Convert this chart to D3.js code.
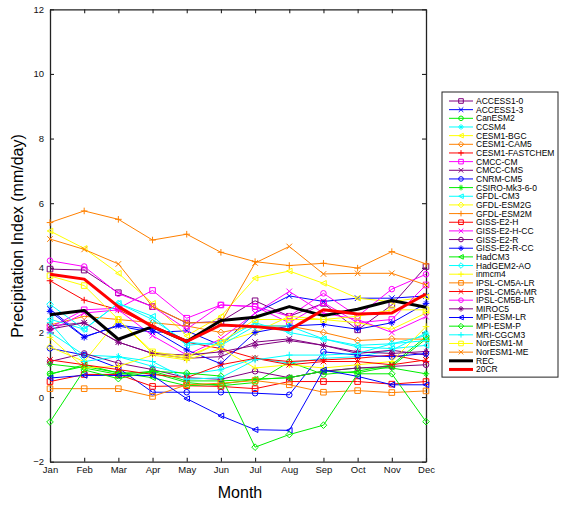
<!DOCTYPE html>
<html>
<head>
<meta charset="utf-8">
<script src="https://cdn.jsdelivr.net/npm/d3@7"></script>
<style>
  body { margin: 0; background: #fff; }
  text { font-family: "Liberation Sans", Arial, Helvetica, sans-serif; }
</style>
</head>
<body>
<svg id="chart" width="562" height="505"></svg>
<script>
// months on the x axis
var months = ["Jan","Feb","Mar","Apr","May","Jun","Jul","Aug","Sep","Oct","Nov","Dec"];
var yTicks = [-2, 0, 2, 4, 6, 8, 10, 12];

// monthly precipitation index (mm/day)
var access10     = [3.96, 3.93, 3.23, 2.8, 2.29, 2.34, 2.98, 2.5, 2.9, 2.08, 2.85, 4.04];
var access13     = [2.72, 1.87, 2.2, 2.0, 2.05, 1.6, 2.6, 3.13, 2.96, 3.06, 3.06, 3.13];
var canesm2      = [0.72, 0.95, 0.75, 0.75, 0.45, 0.35, 0.45, 1.09, 0.7, 0.8, 1.0, 1.87];
var ccsm4        = [2.0, 1.3, 1.25, 0.95, 0.7, 0.85, 1.2, 1.05, 1.2, 1.25, 1.45, 1.98];
var cesm1bgc     = [5.14, 4.6, 3.83, 2.9, 1.9, 2.5, 3.68, 3.9, 3.52, 3.06, 2.95, 3.1];
var cesm1cam5    = [2.23, 2.5, 2.4, 2.3, 2.2, 2.0, 2.2, 2.2, 2.0, 1.75, 1.8, 1.79];
var cesm1fast    = [3.6, 3.0, 2.7, 2.2, 1.7, 1.5, 1.2, 1.1, 1.15, 1.2, 1.3, 1.1];
var cmcccm       = [2.15, 2.7, 2.75, 3.3, 2.44, 2.85, 2.8, 2.3, 2.92, 2.3, 2.4, 3.47];
var cmcccms      = [2.2, 2.3, 1.7, 1.35, 1.2, 1.25, 1.7, 1.8, 1.6, 1.35, 1.45, 1.3];
var cnrmcm5      = [1.51, 1.3, 0.9, 0.15, 0.15, 0.15, 0.12, 0.07, 1.4, 1.3, 1.25, 1.35];
var csiro        = [1.02, 0.9, 0.7, 0.8, 0.5, 0.5, 0.55, 0.6, 0.8, 0.9, 0.9, 0.72];
var gfdlcm3      = [2.41, 2.1, 2.9, 2.5, 1.6, 1.7, 2.3, 2.0, 1.8, 1.55, 1.5, 1.6];
var gfdlesm2g    = [1.55, 1.1, 2.4, 1.35, 1.2, 1.7, 2.0, 2.5, 2.4, 2.3, 2.1, 2.6];
var gfdlesm2m    = [5.4, 5.76, 5.5, 4.86, 5.04, 4.48, 4.19, 4.07, 4.14, 3.99, 4.5, 4.12];
var gisse2h      = [0.48, 0.7, 0.7, 0.33, 0.35, 0.33, 0.26, 0.48, 0.48, 0.48, 0.4, 0.48];
var gisse2hcc    = [2.05, 2.6, 2.7, 1.9, 1.3, 1.8, 2.6, 3.27, 2.6, 2.4, 2.0, 2.49];
var gisse2r      = [1.1, 1.35, 1.05, 0.85, 0.6, 0.55, 0.8, 0.6, 0.8, 0.9, 0.95, 1.0];
var gisse2rcc    = [2.65, 1.85, 2.23, 2.08, 1.46, 1.03, 2.0, 2.2, 2.25, 2.1, 2.3, 2.9];
var hadcm3       = [0.7, 1.0, 0.75, 0.6, 0.35, 0.4, 0.55, 0.6, 0.8, 0.75, 0.95, 1.8];
var hadgem2ao    = [2.87, 2.1, 2.9, 2.4, 1.7, 1.6, 2.2, 2.2, 1.8, 1.6, 1.65, 1.9];
var inmcm4       = [1.85, 0.9, 0.95, 1.3, 1.15, 1.5, 0.9, 1.0, 0.9, 1.0, 1.1, 2.18];
var ipslcm5alr   = [0.26, 0.26, 0.26, 0.02, 0.38, 0.43, 0.51, 0.38, 0.15, 0.2, 0.14, 0.19];
var ipslcm5amr   = [1.15, 1.0, 0.85, 0.7, 0.6, 1.0, 1.2, 1.0, 1.1, 1.1, 1.0, 1.15];
var ipslcm5blr   = [4.22, 4.04, 3.2, 2.8, 2.1, 2.85, 2.8, 2.5, 3.21, 2.5, 3.34, 3.8];
var miroc5       = [2.1, 2.3, 1.7, 1.35, 1.3, 1.4, 1.6, 1.75, 1.6, 1.4, 1.35, 1.41];
var mpiesmlr     = [0.59, 0.67, 0.67, 0.67, -0.05, -0.58, -1.01, -1.03, 0.84, 0.64, 0.38, 0.38];
var mpiesmp      = [-0.77, 0.84, 0.57, 0.8, 0.74, 0.65, -1.55, -1.16, -0.87, 0.72, 0.72, -0.76];
var mricgcm3     = [2.3, 1.1, 1.25, 1.1, 0.55, 0.6, 1.15, 1.3, 1.3, 1.35, 1.65, 1.75];
var noresm1m     = [3.75, 3.45, 2.4, 1.4, 1.25, 1.7, 2.4, 2.4, 2.4, 2.5, 2.7, 2.7];
var noresm1me    = [4.89, 4.57, 4.12, 2.8, 2.3, 2.3, 4.15, 4.66, 3.81, 3.83, 3.83, 3.47];
var rec          = [2.55, 2.68, 1.79, 2.18, 1.72, 2.37, 2.47, 2.8, 2.52, 2.72, 2.99, 2.78];
var cr20         = [3.8, 3.65, 2.8, 2.18, 1.72, 2.23, 2.18, 2.08, 2.7, 2.57, 2.6, 3.19];

var names = ["ACCESS1-0","ACCESS1-3","CanESM2","CCSM4","CESM1-BGC","CESM1-CAM5","CESM1-FASTCHEM",
             "CMCC-CM","CMCC-CMS","CNRM-CM5","CSIRO-Mk3-6-0","GFDL-CM3","GFDL-ESM2G","GFDL-ESM2M",
             "GISS-E2-H","GISS-E2-H-CC","GISS-E2-R","GISS-E2-R-CC","HadCM3","HadGEM2-AO","inmcm4",
             "IPSL-CM5A-LR","IPSL-CM5A-MR","IPSL-CM5B-LR","MIROC5","MPI-ESM-LR","MPI-ESM-P",
             "MRI-CGCM3","NorESM1-M","NorESM1-ME","REC","20CR"];
var seriesValues = [access10, access13, canesm2, ccsm4, cesm1bgc, cesm1cam5, cesm1fast,
                    cmcccm, cmcccms, cnrmcm5, csiro, gfdlcm3, gfdlesm2g, gfdlesm2m,
                    gisse2h, gisse2hcc, gisse2r, gisse2rcc, hadcm3, hadgem2ao, inmcm4,
                    ipslcm5alr, ipslcm5amr, ipslcm5blr, miroc5, mpiesmlr, mpiesmp,
                    mricgcm3, noresm1m, noresm1me, rec, cr20];

// style cycles (colours repeat every 8, markers every 7)
var colorCycle = ["#800080","#0000ff","#00ee00","#00ffff","#ffff00","#ff8000","#ff0000","#ff00ff"];
var markerCycle = ["square","x","circle","star","triangle","diamond","plus"];

var series = names.map(function(n, i){
	var special = i >= 30;
	return {
		name: n,
		values: seriesValues[i],
		color: special ? (n == "REC" ? "#000000" : "#ff0000") : colorCycle[i % 8],
		marker: special ? null : markerCycle[i % 7],
		width: special ? 3 : 1
	};
});

var svg = d3.select("#chart");

var plotLeft = 50, plotRight = 426, plotTop = 9.3, plotBottom = 461.7;

var x = d3.scalePoint().domain(months).range([plotLeft, plotRight]);
var y = d3.scaleLinear().domain([-2, 12]).range([plotBottom, plotTop]);

function markerPath(type, s){
	switch(type){
		case "square":   return "M"+(-s)+","+(-s)+"H"+s+"V"+s+"H"+(-s)+"Z";
		case "circle":   return "M"+s+",0A"+s+","+s+" 0 1,1 "+(-s)+",0A"+s+","+s+" 0 1,1 "+s+",0";
		case "x":        return "M"+(-s)+","+(-s)+"L"+s+","+s+"M"+(-s)+","+s+"L"+s+","+(-s);
		case "plus":     return "M"+(-s-0.5)+",0H"+(s+0.5)+"M0,"+(-s-0.5)+"V"+(s+0.5);
		case "star":     return "M"+(-s-0.5)+",0H"+(s+0.5)+"M0,"+(-s-0.5)+"V"+(s+0.5)+
		                        "M"+(-s*0.75)+","+(-s*0.75)+"L"+(s*0.75)+","+(s*0.75)+
		                        "M"+(-s*0.75)+","+(s*0.75)+"L"+(s*0.75)+","+(-s*0.75);
		case "triangle": return "M"+(-s)+",0L"+s+","+(-s)+"L"+s+","+s+"Z";
		case "diamond":  return "M0,"+(-s-0.5)+"L"+(s+0.5)+",0L0,"+(s+0.5)+"L"+(-s-0.5)+",0Z";
	}
	return "";
}

// axes: ticks pointing inward on all four sides
var axisStyle = function(g){
	g.selectAll(".domain").attr("stroke", "#222").attr("stroke-width", 1.3);
	g.selectAll(".tick line").attr("stroke", "#222").attr("stroke-width", 1.1);
	g.selectAll("text").attr("font-size", 9.5).attr("fill", "#111")
		.style("font-family", "'Liberation Sans', Arial, sans-serif");
};

svg.append("g").attr("transform", "translate(0," + plotBottom + ")")
	.call(d3.axisBottom(x).tickSizeInner(-4).tickSizeOuter(0).tickPadding(5))
	.call(axisStyle);
svg.append("g").attr("transform", "translate(0," + plotTop + ")")
	.call(d3.axisTop(x).tickSizeInner(-4).tickSizeOuter(0).tickFormat(""))
	.call(axisStyle);
svg.append("g").attr("transform", "translate(" + plotLeft + ",0)")
	.call(d3.axisLeft(y).tickValues(yTicks).tickSizeInner(-4).tickSizeOuter(0).tickPadding(6))
	.call(axisStyle);
svg.append("g").attr("transform", "translate(" + plotRight + ",0)")
	.call(d3.axisRight(y).tickValues(yTicks).tickSizeInner(-4).tickSizeOuter(0).tickFormat(""))
	.call(axisStyle);

// lines
var line = d3.line()
	.x(function(d, i){ return x(months[i]); })
	.y(function(d){ return y(d); });

var plot = svg.append("g");

series.forEach(function(s){
	var g = plot.append("g");
	g.append("path")
		.attr("d", line(s.values))
		.attr("fill", "none")
		.attr("stroke", s.color)
		.attr("stroke-width", s.width)
		.attr("stroke-linejoin", "round");
	if(s.marker){
		g.selectAll("path.mk")
			.data(s.values)
			.enter().append("path")
			.attr("class", "mk")
			.attr("transform", function(d, i){ return "translate(" + x(months[i]) + "," + y(d) + ")"; })
			.attr("d", markerPath(s.marker, 2.8))
			.attr("fill", "none")
			.attr("stroke", s.color)
			.attr("stroke-width", 1);
	}
});

// axis titles
svg.append("text")
	.attr("x", 240).attr("y", 498)
	.attr("text-anchor", "middle")
	.attr("font-size", 16)
	.text("Month");

svg.append("text")
	.attr("transform", "translate(23,236) rotate(-90)")
	.attr("text-anchor", "middle")
	.attr("font-size", 16)
	.text("Precipitation Index (mm/day)");

// legend
var legTop = 92, legStep = 8.66;
var legend = svg.append("g");
legend.append("rect")
	.attr("x", 442).attr("y", legTop)
	.attr("width", 116).attr("height", legStep * series.length + 8)
	.attr("fill", "#fff").attr("stroke", "#222").attr("stroke-width", 1);

var item = legend.selectAll(".leg")
	.data(series)
	.enter().append("g")
	.attr("class", "leg")
	.attr("transform", function(d, i){ return "translate(0," + (legTop + 9 + i * legStep) + ")"; });

item.append("line")
	.attr("x1", 449).attr("x2", 473)
	.attr("stroke", function(d){ return d.color; })
	.attr("stroke-width", function(d){ return d.width; });

item.filter(function(d){ return d.marker; }).append("path")
	.attr("transform", "translate(461,0)")
	.attr("d", function(d){ return markerPath(d.marker, 2.3); })
	.attr("fill", "none")
	.attr("stroke", function(d){ return d.color; });

item.append("text")
	.attr("x", 476).attr("dy", "0.35em")
	.attr("font-size", 8.5)
	.text(function(d){ return d.name; });
</script>
</body>
</html>
